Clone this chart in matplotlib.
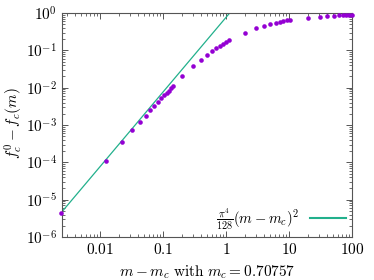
import numpy as np
import matplotlib
matplotlib.use("Agg")
import matplotlib.pyplot as plt
from matplotlib.ticker import LogLocator, FixedLocator, FixedFormatter, NullFormatter

plt.rcParams['mathtext.fontset'] = 'cm'
plt.rcParams['font.family'] = ['DejaVu Serif']

# data: x = m - m_c, y = f_c^0 - f_c(m)
x_pts = [0.00245, 0.01243, 0.02243, 0.0326, 0.0427, 0.0531, 0.063, 0.0728, 0.0833,
         0.094, 0.104, 0.1145, 0.1246, 0.134, 0.144, 0.202, 0.303, 0.396, 0.499,
         0.60, 0.70, 0.80, 0.895, 0.99, 1.10, 2.02, 3.03, 4.05, 5.05, 6.15, 7.1,
         8.1, 9.2, 10.2, 20.2, 30.7, 40.6, 51, 61.5, 71, 80, 89.6, 100]
y_pts = [4.3e-6, 1.08e-4, 3.44e-4, 7.2e-4, 1.2e-3, 1.77e-3, 2.52e-3, 3.29e-3, 4.2e-3,
         5.2e-3, 6.2e-3, 7.2e-3, 8.3e-3, 9.6e-3, 1.11e-2, 2.0e-2, 3.7e-2, 5.5e-2, 7.5e-2,
         9.4e-2, 0.115, 0.133, 0.151, 0.167, 0.185, 0.30, 0.40, 0.46, 0.51, 0.55, 0.59,
         0.61, 0.64, 0.65, 0.75, 0.80, 0.83, 0.85, 0.865, 0.87, 0.88, 0.89, 0.90]
coef = np.pi**4 / 128
x_ticks = [0.01, 0.1, 1, 10, 100]
x_ticklabels = ['$0.01$', '$0.1$', '$1$', '$10$', '$100$']
y_ticks = [1e-6, 1e-5, 1e-4, 1e-3, 1e-2, 1e-1, 1]
y_ticklabels = ['$10^{-6}$', '$10^{-5}$', '$10^{-4}$', '$10^{-3}$', '$10^{-2}$', '$10^{-1}$', '$10^{0}$']

fig = plt.figure(figsize=(3.74, 2.80), dpi=100)
ax = fig.add_axes([62/374, 1-237/280, (352-62)/374, (237-13)/280])

xl = np.logspace(np.log10(0.0025), np.log10(1.2), 200)
ax.plot(xl, coef*xl**2, color='#22b08c', lw=0.9, label=r'$\frac{\pi^4}{128}(m-m_c)^2$', zorder=2)
ax.plot(x_pts, y_pts, 'o', color='#9400d3', ms=3.3, mec='none', clip_on=False, zorder=3)

ax.set_xscale('log')
ax.set_yscale('log')
ax.set_xlim(0.0025, 100)
ax.set_ylim(1e-6, 1)
ax.xaxis.set_major_locator(FixedLocator(x_ticks))
ax.xaxis.set_major_formatter(FixedFormatter(x_ticklabels))
ax.yaxis.set_major_locator(FixedLocator(y_ticks))
ax.yaxis.set_major_formatter(FixedFormatter(y_ticklabels))
ax.xaxis.set_minor_locator(LogLocator(base=10, subs=np.arange(2, 10), numticks=20))
ax.yaxis.set_minor_locator(LogLocator(base=10, subs=np.arange(2, 10), numticks=20))
ax.xaxis.set_minor_formatter(NullFormatter())
ax.yaxis.set_minor_formatter(NullFormatter())
ax.tick_params(which='both', direction='in', top=True, right=True, color='#555555', labelsize=11)
ax.tick_params(which='major', length=4, width=0.7)
ax.tick_params(which='minor', length=2, width=0.6)
for s in ax.spines.values():
    s.set_color('#555555')
    s.set_linewidth(0.8)

ax.set_xlabel(r'$m - m_c\ \mathrm{with}\ m_c = 0.70757$', fontsize=11)
ax.xaxis.set_label_coords(0.5, -0.12)
ax.set_ylabel(r'$f_c^0 - f_c(m)$', fontsize=11)
ax.yaxis.set_label_coords(-0.128, 0.51)
leg = ax.legend(loc='center right', frameon=False, markerfirst=False, fontsize=10.5,
                handlelength=2.5, handletextpad=0.75, borderaxespad=0.2, borderpad=0.2,
                bbox_to_anchor=(1.0, 0.08))
leg.get_lines()[0].set_linewidth(1.5)
fig.savefig('out.png', dpi=100)
